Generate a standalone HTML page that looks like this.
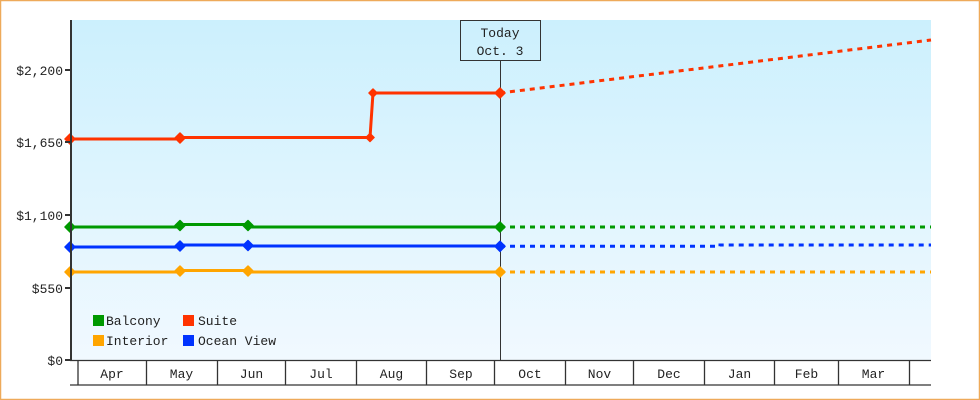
<!DOCTYPE html>
<html><head><meta charset="utf-8"><style>
html,body{margin:0;padding:0;background:#fff;}
svg{display:block;}
text{font-family:"Liberation Mono","DejaVu Sans Mono",monospace;font-size:13px;fill:#222;}
</style></head><body>
<svg width="980" height="400" viewBox="0 0 980 400" xmlns="http://www.w3.org/2000/svg">
<defs>
<linearGradient id="bg" x1="0" y1="0" x2="0" y2="1">
<stop offset="0" stop-color="#ccf0fd"/>
<stop offset="1" stop-color="#f1f9ff"/>
</linearGradient>
</defs>
<rect x="0.5" y="0.5" width="979" height="399" fill="#fff" stroke="#eeaa5a" stroke-width="1.5"/>
<rect x="71" y="20" width="860" height="340" fill="url(#bg)"/>

<!-- today line & box -->
<line x1="500.5" y1="61" x2="500.5" y2="360" stroke="#333" stroke-width="1"/>
<rect x="460.5" y="20.5" width="80" height="40" fill="none" stroke="#333" stroke-width="1"/>
<text x="500" y="37" text-anchor="middle">Today</text>
<text x="500" y="55" text-anchor="middle">Oct. 3</text>

<!-- Suite -->
<polyline fill="none" stroke="#ff3300" stroke-width="3" points="70,139 180,139 180,137.5 370,137.5 373,93 500,93"/>
<line x1="500" y1="93" x2="931" y2="40" stroke="#ff3300" stroke-width="3" stroke-dasharray="5,5"/>
<!-- Balcony -->
<polyline fill="none" stroke="#009900" stroke-width="3" points="70,227 180,227 180,224.5 248,224.5 248,227 500,227"/>
<line x1="500" y1="227" x2="931" y2="227" stroke="#009900" stroke-width="3" stroke-dasharray="5,5"/>
<!-- Ocean view -->
<polyline fill="none" stroke="#0033ff" stroke-width="3" points="70,247 180,247 180,245 248,245 248,246 500,246"/>
<polyline fill="none" stroke="#0033ff" stroke-width="3" stroke-dasharray="5,5" points="500,246.3 720,246.3 720,245 931,245"/>
<!-- Interior -->
<polyline fill="none" stroke="#ffa500" stroke-width="3" points="70,272 180,272 180,270.5 248,270.5 248,272 500,272"/>
<line x1="500" y1="272" x2="931" y2="272" stroke="#ffa500" stroke-width="3" stroke-dasharray="5,5"/>

<!-- markers -->
<g stroke-width="1.5" stroke-linejoin="round">
<path fill="#ff3300" stroke="#ff3300" d="M70,134 L75,139 L70,144 L65,139Z M180,133 L185,138 L180,143 L175,138Z M370,133.5 L374,137.5 L370,141.5 L366,137.5Z M373,89 L377,93 L373,97 L369,93Z M500,88 L505,93 L500,98 L495,93Z"/>
<path fill="#009900" stroke="#009900" d="M70,222 L75,227 L70,232 L65,227Z M180,220.5 L185,225.5 L180,230.5 L175,225.5Z M248,220.5 L253,225.5 L248,230.5 L243,225.5Z M500,222 L505,227 L500,232 L495,227Z"/>
<path fill="#0033ff" stroke="#0033ff" d="M70,242 L75,247 L70,252 L65,247Z M180,241 L185,246 L180,251 L175,246Z M248,240.5 L253,245.5 L248,250.5 L243,245.5Z M500,241.3 L505,246.3 L500,251.3 L495,246.3Z"/>
<path fill="#ffa500" stroke="#ffa500" d="M70,267 L75,272 L70,277 L65,272Z M180,266 L185,271 L180,276 L175,271Z M248,266 L253,271 L248,276 L243,271Z M500,267 L505,272 L500,277 L495,272Z"/>
</g>

<!-- y axis -->
<line x1="71" y1="20" x2="71" y2="361" stroke="#333" stroke-width="2"/>
<g stroke="#333" stroke-width="2">
<line x1="65" y1="70" x2="71" y2="70"/>
<line x1="65" y1="142" x2="71" y2="142"/>
<line x1="65" y1="215" x2="71" y2="215"/>
<line x1="65" y1="288" x2="71" y2="288"/>
<line x1="65" y1="360" x2="71" y2="360"/>
</g>
<g text-anchor="end">
<text x="63" y="75">$2,200</text>
<text x="63" y="147">$1,650</text>
<text x="63" y="220">$1,100</text>
<text x="63" y="293">$550</text>
<text x="63" y="365">$0</text>
</g>

<!-- x axis -->
<g stroke="#333" stroke-width="1.3">
<line x1="70" y1="360.5" x2="931" y2="360.5"/>
<line x1="70" y1="385" x2="931" y2="385"/>
<line x1="78" y1="360" x2="78" y2="385"/>
<line x1="146.5" y1="360" x2="146.5" y2="385"/>
<line x1="217.5" y1="360" x2="217.5" y2="385"/>
<line x1="285.5" y1="360" x2="285.5" y2="385"/>
<line x1="356.5" y1="360" x2="356.5" y2="385"/>
<line x1="426.5" y1="360" x2="426.5" y2="385"/>
<line x1="494.5" y1="360" x2="494.5" y2="385"/>
<line x1="565.5" y1="360" x2="565.5" y2="385"/>
<line x1="633.5" y1="360" x2="633.5" y2="385"/>
<line x1="704.5" y1="360" x2="704.5" y2="385"/>
<line x1="774.5" y1="360" x2="774.5" y2="385"/>
<line x1="838.5" y1="360" x2="838.5" y2="385"/>
<line x1="909.5" y1="360" x2="909.5" y2="385"/>
</g>
<g text-anchor="middle">
<text x="112" y="378">Apr</text>
<text x="181.5" y="378">May</text>
<text x="251.5" y="378">Jun</text>
<text x="321" y="378">Jul</text>
<text x="391.5" y="378">Aug</text>
<text x="461" y="378">Sep</text>
<text x="530" y="378">Oct</text>
<text x="599.5" y="378">Nov</text>
<text x="669" y="378">Dec</text>
<text x="739.5" y="378">Jan</text>
<text x="806.5" y="378">Feb</text>
<text x="873.5" y="378">Mar</text>
</g>

<!-- legend -->
<rect x="93" y="315" width="11" height="11" fill="#009900"/>
<text x="106" y="325">Balcony</text>
<rect x="183" y="315" width="11" height="11" fill="#ff3300"/>
<text x="198" y="325">Suite</text>
<rect x="93" y="335" width="11" height="11" fill="#ffa500"/>
<text x="106" y="345">Interior</text>
<rect x="183" y="335" width="11" height="11" fill="#0033ff"/>
<text x="198" y="345">Ocean View</text>
</svg>
</body></html>
